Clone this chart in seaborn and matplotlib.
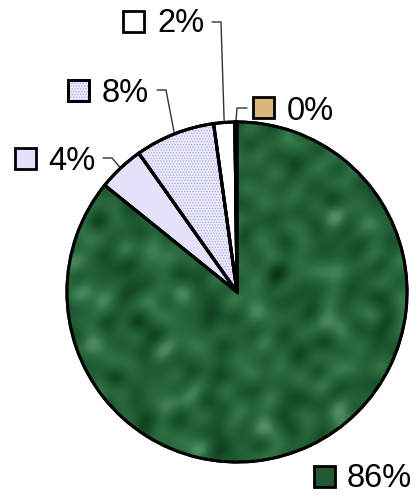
import numpy as np
import matplotlib
matplotlib.use("Agg")
import matplotlib.pyplot as plt
from matplotlib.patches import Rectangle, Wedge
from matplotlib.colors import LinearSegmentedColormap
import seaborn as sns

# Slice shares in percent, clockwise from twelve o'clock
shares = [85.8, 4.4, 7.6, 2.0, 0.2]
slice_names = ["green", "lavender", "dotted", "white", "tan"]
face_colors = ["#1f5a32", "#e2e2fc", "#eaeafb", "#ffffff", "#d8b77e"]

sns.set_theme(style="white")
plt.rcParams["font.family"] = ["Liberation Sans", "DejaVu Sans"]
plt.rcParams["hatch.linewidth"] = 0.6

W, H = 420, 495
fig = plt.figure(figsize=(W / 100, H / 100), dpi=100)
ax = fig.add_axes([0, 0, 1, 1])

cx, cy, R = 237, H - 292, 170

wedges, _ = ax.pie(
    shares, colors=face_colors, startangle=90, counterclock=False,
    center=(cx, cy), radius=R, frame=True,
    wedgeprops=dict(edgecolor="black", linewidth=2.2),
)
ax.set_xlim(0, W)
ax.set_ylim(0, H)
ax.set_aspect("equal")
ax.axis("off")


def marble(n=120):
    # mottled texture from plane waves at golden-angle spaced directions
    g = np.linspace(0, 1, n)
    x, y = np.meshgrid(g, g)
    t = np.zeros_like(x)
    for k in range(18):
        ang = k * 2.39996
        f = 4.0 + 11.0 * ((k * 0.618) % 1.0)
        ph = (k * 1.7) % (2 * np.pi)
        t += np.sin(2 * np.pi * f * (x * np.cos(ang) + y * np.sin(ang)) + ph) / (1 + 0.08 * f)
    return t


green_cmap = LinearSegmentedColormap.from_list(
    "marble", ["#0a3618", "#1b552e", "#2d6e42", "#5a9869"])
tex = ax.imshow(marble(), cmap=green_cmap, extent=(cx - R, cx + R, cy - R, cy + R),
                interpolation="bilinear", zorder=wedges[0].get_zorder() + 0.1)
tex.set_clip_path(wedges[0])

# dotted fill for the 8% slice
w = wedges[2]
dots = Wedge(w.center, w.r, w.theta1, w.theta2, facecolor="none",
             edgecolor="#a8a8e6", hatch="......", linewidth=0, zorder=w.get_zorder() + 0.1)
ax.add_patch(dots)

# redraw outlines on top of textures
for wd in wedges:
    ax.add_patch(Wedge(wd.center, wd.r, wd.theta1, wd.theta2, facecolor="none",
                       edgecolor="black", linewidth=2.2, zorder=5))

# label layout: key square (left, top) in pixels, text left, baseline, leader elbow
key_pos = [(314, 466), (15, 148), (68, 80), (123, 11), (253, 97)]
text_pos = [(347, 487), (48, 170), (102, 102), (157, 32), (287, 120)]
leaders = [None,
           [(103, 158), (112, 158)],
           [(157, 90), (166, 90)],
           [(212, 22), (221, 22)],
           [(247, 108), (237, 108)]]

KS = 21
for i, v in enumerate(shares):
    kx, ky = key_pos[i]
    ax.add_patch(Rectangle((kx, H - ky - KS), KS, KS, facecolor=face_colors[i],
                           edgecolor="black", linewidth=2, zorder=6))
    if slice_names[i] == "dotted":
        ax.add_patch(Rectangle((kx, H - ky - KS), KS, KS, facecolor="none",
                               edgecolor="#a8a8e6", hatch="......", linewidth=0, zorder=6.1))
        ax.add_patch(Rectangle((kx, H - ky - KS), KS, KS, facecolor="none",
                               edgecolor="black", linewidth=2, zorder=6.2))
    tx, ty = text_pos[i]
    ax.text(tx, H - ty, f"{round(v):.0f}%", fontsize=23.5, ha="left", va="baseline",
            color="black", zorder=7)
    if leaders[i] is not None:
        w = wedges[i]
        mid = np.deg2rad((w.theta1 + w.theta2) / 2)
        ex, ey = cx + R * np.cos(mid), cy + R * np.sin(mid)
        pts = [(px, H - py) for px, py in leaders[i]] + [(ex, ey)]
        xs, ys = zip(*pts)
        ax.plot(xs, ys, color="#333333", linewidth=1, zorder=4)

fig.savefig("out.png", dpi=100)
